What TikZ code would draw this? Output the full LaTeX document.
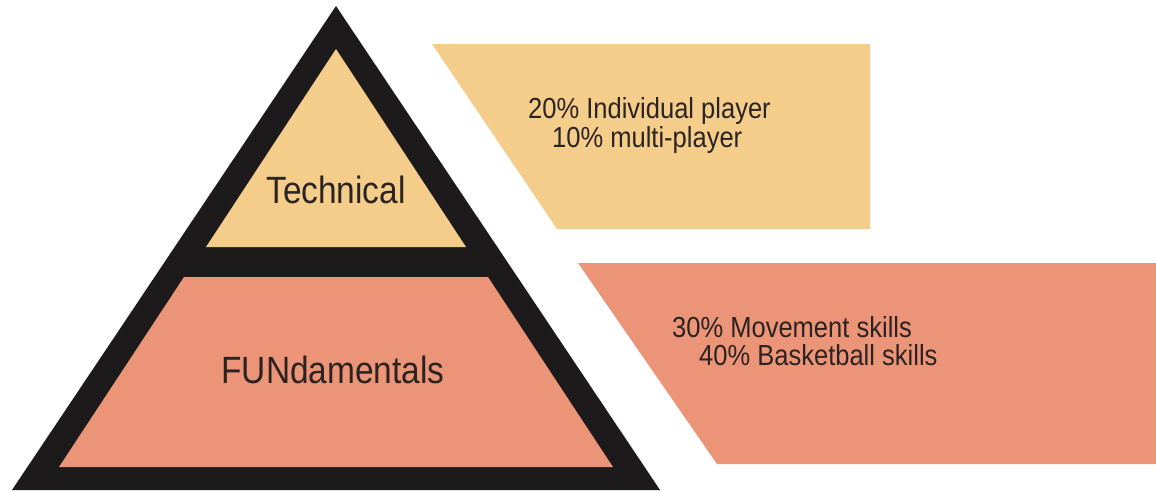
\documentclass[tikz,border=0pt]{standalone}
\usepackage{fontspec}
\setmainfont[FakeStretch=0.88]{Liberation Sans}
\usetikzlibrary{positioning}

\definecolor{techtan}{HTML}{F4CD8B}
\definecolor{fundsalmon}{HTML}{EC9477}
\definecolor{pyrblack}{HTML}{1C1A1A}
\definecolor{inkbrown}{HTML}{2B2321}

\begin{document}
\begin{tikzpicture}[x=1pt,y=-1pt,
  bigtext/.style={font=\fontsize{38}{40}\selectfont,text=inkbrown,inner sep=0pt,anchor=base},
  smalltext/.style={font=\fontsize{29}{30}\selectfont,text=inkbrown,inner sep=0pt,anchor=base west}]

\useasboundingbox (0,0) rectangle (1156,490);
\clip (0,0) rectangle (1156,490);

% pyramid outline
\fill[pyrblack] (336,6) -- (660,490) -- (12,490) -- cycle;

% levels
\fill[techtan] (336,49) -- (466,247) -- (206,247) -- cycle;
\fill[fundsalmon] (184,277) -- (488,277) -- (613,467) -- (59,467) -- cycle;

% side panels
\fill[techtan] (432,44) -- (870,44) -- (870,229) -- (557,229) -- cycle;
\fill[fundsalmon] (578,263) -- (1156,263) -- (1156,464) -- (717,464) -- cycle;

% labels
\node[bigtext] (technical) at (336,203) {Technical};
\node[bigtext] (fundamentals) at (333,383) {FUNdamentals};

\node[smalltext] (techA) at (528,118) {20\% Individual player};
\node[smalltext] (techB) at (552,147) {10\% multi-player};
\node[smalltext] (fundA) at (672,337) {30\% Movement skills};
\node[smalltext] (fundB) at (699,365) {40\% Basketball skills};

\end{tikzpicture}
\end{document}
